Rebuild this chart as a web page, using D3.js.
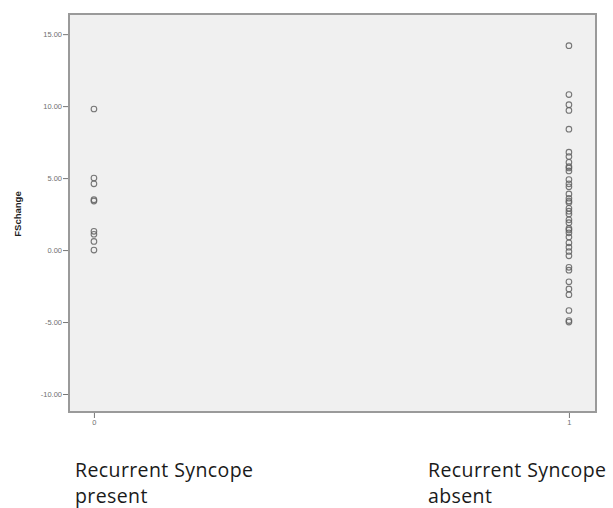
<!DOCTYPE html>
<html>
<head>
<meta charset="utf-8">
<script src="https://cdn.jsdelivr.net/npm/d3@7"></script>
<style>
  body { margin: 0; background: #fff; }
</style>
</head>
<body>
<svg width="613" height="508"></svg>
<script>
const groups = [0, 1];
const presentValues = [9.8, 5.0, 4.6, 3.5, 3.4, 1.3, 1.1, 0.6, 0.0];
const absentValues = [14.2, 10.8, 10.1, 9.7, 8.4, 6.8, 6.5, 6.1, 5.8, 5.7, 5.5, 4.9, 4.6, 4.4, 3.9, 3.6, 3.4, 3.3, 2.9, 2.7, 2.5, 2.1, 1.9, 1.5, 1.4, 1.2, 0.9, 0.5, 0.2, -0.1, -0.4, -1.2, -1.4, -2.2, -2.7, -3.1, -4.2, -4.9, -5.0];
const yTicks = [15, 10, 5, 0, -5, -10];
const xLabels = [['Recurrent Syncope', 'present'], ['Recurrent Syncope', 'absent']];

const svg = d3.select('svg');
const plot = { left: 69, right: 596, top: 14, bottom: 412 };

const xScale = d3.scaleLinear()
    .domain([-0.0525, 1.057])
    .range([plot.left, plot.right]);
const yScale = d3.scaleLinear()
    .domain([-11.25, 16.4])
    .range([plot.bottom, plot.top]);

// Plot background
svg.append('rect')
    .attr('x', plot.left)
    .attr('y', plot.top)
    .attr('width', plot.right - plot.left)
    .attr('height', plot.bottom - plot.top)
    .attr('fill', '#f0f0f0')
    .attr('stroke', '#9a9a9a')
    .attr('stroke-width', 2);

// Axes
const yAxis = d3.axisLeft(yScale)
    .tickValues(yTicks)
    .tickFormat(d => d.toFixed(2))
    .tickSize(5)
    .tickSizeOuter(0);
const gy = svg.append('g')
    .attr('transform', `translate(${plot.left - 1}, 0)`)
    .call(yAxis);
gy.select('.domain').remove();
gy.selectAll('line').attr('stroke', '#777');
gy.selectAll('text')
    .attr('x', -6)
    .style('font-family', 'Liberation Sans, Arial, sans-serif')
    .style('font-size', '7.5px')
    .attr('fill', '#707070');

const xAxis = d3.axisBottom(xScale)
    .tickValues(groups)
    .tickFormat(d => String(d))
    .tickSize(5)
    .tickSizeOuter(0);
const gx = svg.append('g')
    .attr('transform', `translate(0, ${plot.bottom + 1})`)
    .call(xAxis);
gx.select('.domain').remove();
gx.selectAll('line').attr('stroke', '#777');
gx.selectAll('text')
    .attr('y', 7)
    .style('font-family', 'Liberation Sans, Arial, sans-serif')
    .style('font-size', '7.5px')
    .attr('fill', '#707070');

// Points
const points = [];
presentValues.forEach(v => points.push({ g: 0, v: v }));
absentValues.forEach(v => points.push({ g: 1, v: v }));

svg.append('g').selectAll('circle')
    .data(points)
    .join('circle')
    .attr('cx', d => xScale(d.g))
    .attr('cy', d => yScale(d.v))
    .attr('r', 2.8)
    .attr('fill', 'none')
    .attr('stroke', '#606060')
    .attr('stroke-width', 1.1)
    .style('opacity', 0.85);

// Y label
svg.append('text')
    .text('FSchange')
    .attr('transform', `translate(21, 214) rotate(-90)`)
    .style('text-anchor', 'middle')
    .style('font-family', 'Liberation Sans, Arial, sans-serif')
    .style('font-weight', 'bold')
    .style('font-size', '9.5px')
    .attr('fill', '#222');

// Category labels
const labelX = [75, 428];
xLabels.forEach((lines, i) => {
    lines.forEach((line, j) => {
        svg.append('text')
            .text(line)
            .attr('x', labelX[i])
            .attr('y', 477 + j * 26)
            .style('font-family', 'Open Sans, sans-serif')
            .style('font-size', '19.5px')
            .style('letter-spacing', '0.4px')
            .attr('fill', '#1a1a1a');
    });
});
</script>
</body>
</html>
